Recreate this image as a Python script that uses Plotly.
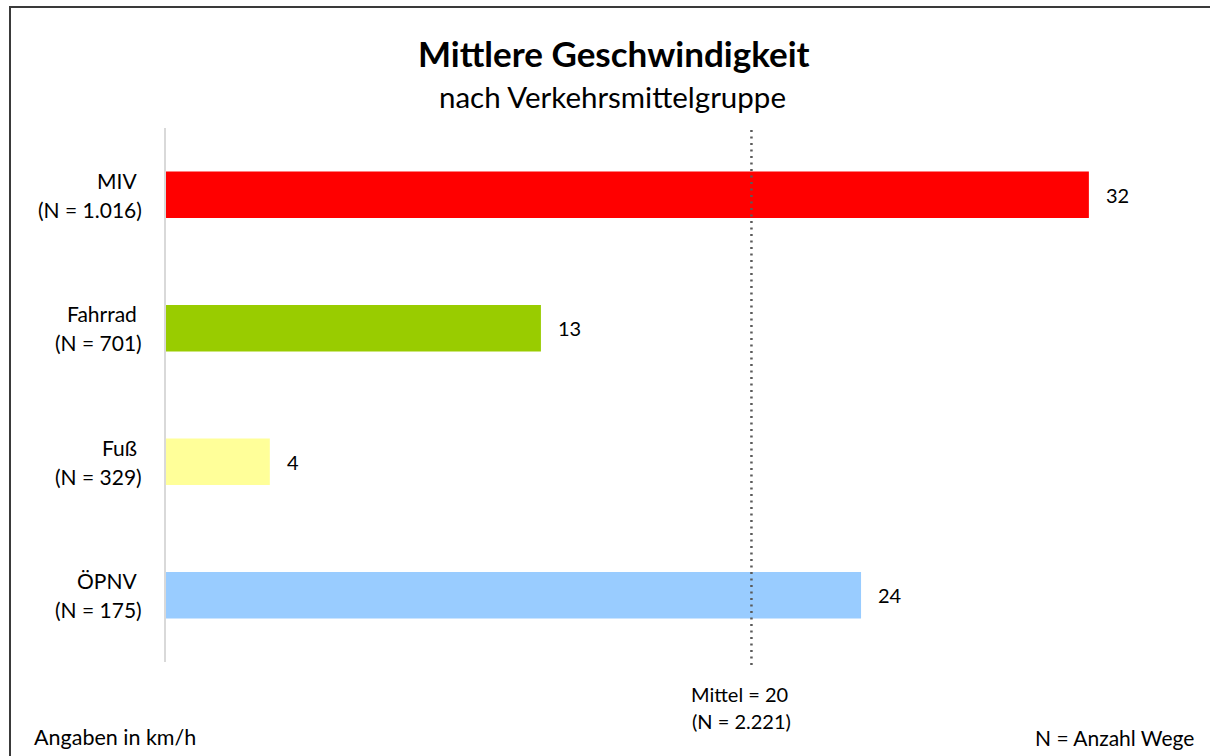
import plotly.graph_objects as go

# ---- data ----
categories = ["MIV", "Fahrrad", "Fuß", "ÖPNV"]
n_counts = ["1.016", "701", "329", "175"]
speeds = [32.0, 13.0, 3.6, 24.1]
colors = ["#FF0000", "#99CC00", "#FFFF99", "#99CCFF"]
mean_speed = 20.3
mean_n = "2.221"
title = "Mittlere Geschwindigkeit"
subtitle = "nach Verkehrsmittelgruppe"
note_left = "Angaben in km/h"
note_right = "N = Anzahl Wege"

FONT = "Lato"
W, H = 1210, 756
# target pixel positions of the plot area
PL, PR, PT, PB = 166, 1175, 128, 662
L, T = PL, PT
R, B = W - PR, H - PB
pw, ph = W - L - R, H - T - B
X_SCALE = 28.84  # px per km/h


def px(x):
    return (x - L) / pw


def py(y):
    return (H - B - y) / ph


fig = go.Figure()
fig.add_trace(go.Bar(
    y=list(range(len(categories))), x=speeds, orientation="h",
    marker=dict(color=colors, line=dict(width=0)), width=0.35,
    hoverinfo="skip",
))

LBL = 21
annotations = []
for i, (c, n, v) in enumerate(zip(categories, n_counts, speeds)):
    annotations.append(dict(x=px(139), xref="paper", y=i, yref="y", text=c,
                            xanchor="right", yanchor="middle", yshift=14.5,
                            showarrow=False, font=dict(size=LBL, color="#000")))
    annotations.append(dict(x=px(144), xref="paper", y=i, yref="y", text=f"(N = {n})",
                            xanchor="right", yanchor="middle", yshift=-14.5,
                            showarrow=False, font=dict(size=LBL, color="#000")))
    annotations.append(dict(x=v, xref="x", y=i, yref="y", text=f"{round(v):d}",
                            xanchor="left", yanchor="middle", xshift=15,
                            showarrow=False, font=dict(size=20, color="#000")))

annotations += [
    dict(x=px(739), xref="paper", y=py(694), yref="paper", text=f"Mittel = {round(mean_speed):d}",
         xanchor="center", yanchor="middle", showarrow=False,
         font=dict(size=20, color="#000")),
    dict(x=px(741), xref="paper", y=py(721), yref="paper", text=f"(N = {mean_n})",
         xanchor="center", yanchor="middle", showarrow=False,
         font=dict(size=20, color="#000")),
    dict(x=px(614), xref="paper", y=py(53), yref="paper", text=f"<b>{title}</b>",
         xanchor="center", yanchor="middle", showarrow=False,
         font=dict(size=35, color="#000")),
    dict(x=px(612), xref="paper", y=py(97), yref="paper", text=subtitle,
         xanchor="center", yanchor="middle", showarrow=False,
         font=dict(size=29.5, color="#000")),
    dict(x=px(32), xref="paper", y=py(737), yref="paper", text=note_left,
         xanchor="left", yanchor="middle", showarrow=False,
         font=dict(size=21.5, color="#000")),
    dict(x=px(1196), xref="paper", y=py(737), yref="paper", text=note_right,
         xanchor="right", yanchor="middle", showarrow=False,
         font=dict(size=21, color="#000")),
]

shapes = [
    dict(type="line", xref="x", yref="paper", x0=mean_speed, x1=mean_speed,
         y0=py(665), y1=py(130), line=dict(color="#5a5a5a", width=2.5, dash="2px,4.5px"),
         layer="above"),
    dict(type="rect", xref="paper", yref="paper", x0=px(10), x1=px(1240),
         y0=py(780), y1=py(7), line=dict(color="#3a3a3a", width=2), layer="below"),
]

fig.update_layout(
    width=W, height=H,
    margin=dict(l=L, r=R, t=T, b=B),
    paper_bgcolor="white", plot_bgcolor="white",
    font=dict(family=FONT, color="#000"),
    showlegend=False,
    xaxis=dict(range=[0, pw / X_SCALE], showgrid=False, zeroline=False,
               showticklabels=False, showline=False, fixedrange=True),
    yaxis=dict(range=[len(categories) - 0.5, -0.5], showgrid=False, zeroline=False,
               showticklabels=False, showline=True, linecolor="#d9d9d9", linewidth=1.5,
               fixedrange=True),
    annotations=annotations,
    shapes=shapes,
)

fig.write_html(
    "out.html",
    config={"displayModeBar": False},
    post_script="document.body.style.margin='0';document.body.style.overflow='hidden';",
)
